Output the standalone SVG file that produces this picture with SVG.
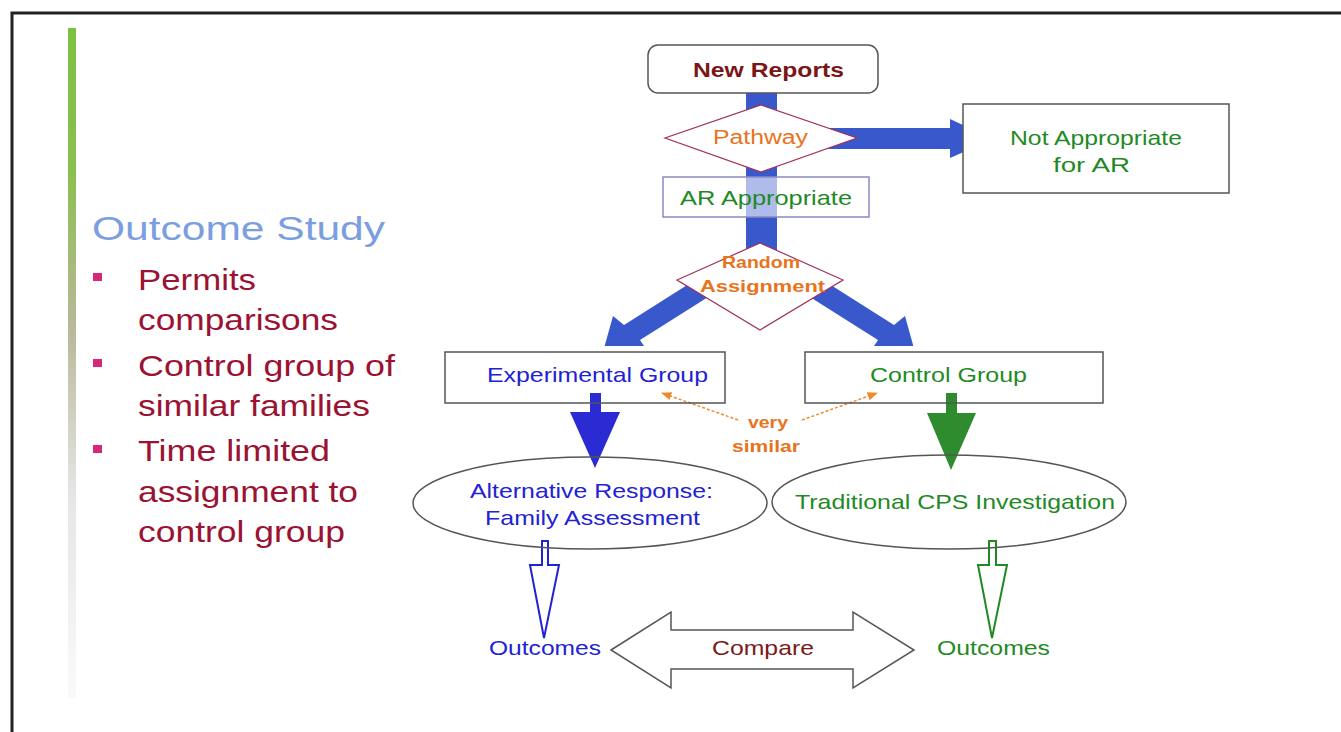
<svg xmlns="http://www.w3.org/2000/svg" width="1341" height="732" viewBox="0 0 1341 732">
<defs>
<style>
text{font-family:"Liberation Sans",Arial,sans-serif;}
.lbl{font-size:21px;}
.blue{fill:#2222d4;}
.green{fill:#1f8a25;}
.orange{fill:#e8731c;}
.bul{font-size:30px;fill:#9b1232;}
.box{fill:#fff;stroke:#555;stroke-width:1.5;}
.obox{fill:none;stroke:#555;stroke-width:1.5;}
.dia{fill:#fff;stroke:#a0305a;stroke-width:1.2;}
.bar{fill:#3858cc;}
.dash{fill:none;stroke:#ef8a2a;stroke-width:1.5;stroke-dasharray:3 2;marker-end:url(#oh);}
</style>
<linearGradient id="gb" x1="0" y1="0" x2="0" y2="1">
<stop offset="0" stop-color="#7cc142"/>
<stop offset="0.22" stop-color="#8cbf52"/>
<stop offset="0.45" stop-color="#b9b89a"/>
<stop offset="0.7" stop-color="#e6e6e6"/>
<stop offset="1" stop-color="#fafafa"/>
</linearGradient>
<marker id="oh" viewBox="0 0 10 10" refX="9" refY="5" markerWidth="7" markerHeight="7" orient="auto">
<path d="M0,1 L10,5 L0,9 Z" fill="#ef8a2a"/>
</marker>
<clipPath id="cl"><rect x="0" y="0" width="1341" height="346"/></clipPath>
</defs>
<rect x="0" y="0" width="1341" height="732" fill="#fff"/>
<rect x="12" y="13" width="1340" height="730" fill="none" stroke="#222" stroke-width="3"/>

<g id="sidebar">
<rect x="68" y="28" width="8" height="670" fill="url(#gb)"/>
<text x="92" y="240" font-size="34" fill="#7b9ee0" textLength="293" lengthAdjust="spacingAndGlyphs">Outcome Study</text>
<rect x="93" y="273" width="9" height="8" fill="#d6287a"/>
<rect x="93" y="359" width="9" height="8" fill="#d6287a"/>
<rect x="93" y="445" width="9" height="8" fill="#d6287a"/>
<text class="bul" x="138" y="290" textLength="118" lengthAdjust="spacingAndGlyphs">Permits</text>
<text class="bul" x="138" y="330" textLength="200" lengthAdjust="spacingAndGlyphs">comparisons</text>
<text class="bul" x="138" y="376" textLength="257" lengthAdjust="spacingAndGlyphs">Control group of</text>
<text class="bul" x="138" y="416" textLength="232" lengthAdjust="spacingAndGlyphs">similar families</text>
<text class="bul" x="138" y="461" textLength="192" lengthAdjust="spacingAndGlyphs">Time limited</text>
<text class="bul" x="138" y="502" textLength="220" lengthAdjust="spacingAndGlyphs">assignment to</text>
<text class="bul" x="138" y="542" textLength="207" lengthAdjust="spacingAndGlyphs">control group</text>
</g>

<g id="connectors">
<rect class="bar" x="746" y="92" width="31" height="165"/>
<path class="bar" d="M800,128 L950,128 L950,119 L993,139 L950,158 L950,149 L800,149 Z"/>
<g clip-path="url(#cl)">
<path class="bar" d="M703,275 L624,325 L613,316 L603,352 L648,352 L640,340 L716,292 Z"/>
<path class="bar" d="M815,275 L894,325 L905,316 L915,352 L870,352 L878,340 L802,292 Z"/>
</g>
<path d="M590,393 L601,393 L601,412 L620,412 L595,468 L570,412 L590,412 Z" fill="#2b2bd4"/>
<path d="M946,393 L957,393 L957,413 L976,413 L951,470 L927,413 L946,413 Z" fill="#2e8b2e"/>
<path class="dash" d="M738,420 L662,393"/>
<path class="dash" d="M802,420 L877,393"/>
<path d="M542,541 L548,541 L548,565 L559,565 L544,638 L530,565 L542,565 Z" fill="#fff" stroke="#2222d4" stroke-width="2"/>
<path d="M989,541 L996,541 L996,565 L1007,565 L992,638 L978,565 L989,565 Z" fill="#fff" stroke="#1f8a25" stroke-width="2"/>
<path d="M611,650 L671,612 L671,630 L853,630 L853,612 L914,650 L853,688 L853,669 L671,669 L671,688 Z" fill="#fff" stroke="#555" stroke-width="1.5"/>
</g>

<g id="new-reports">
<rect class="box" x="648" y="45" width="230" height="48" rx="10"/>
<text x="693" y="77" font-size="20" font-weight="bold" fill="#7a1616" textLength="151" lengthAdjust="spacingAndGlyphs">New Reports</text>
</g>
<g id="pathway">
<polygon class="dia" points="761,105 857,138 761,172 665,138"/>
<text class="orange" x="713" y="144" font-size="20" textLength="95" lengthAdjust="spacingAndGlyphs">Pathway</text>
</g>
<g id="not-appropriate">
<rect class="box" x="963" y="104" width="266" height="89"/>
<text class="lbl green" x="1010" y="145" textLength="172" lengthAdjust="spacingAndGlyphs">Not Appropriate</text>
<text class="lbl green" x="1053" y="172" textLength="77" lengthAdjust="spacingAndGlyphs">for AR</text>
</g>
<g id="ar-appropriate">
<rect x="663" y="177" width="206" height="40" fill="#fff" fill-opacity="0.6" stroke="#8a8ac4" stroke-width="1.5"/>
<text class="lbl green" x="680" y="205" textLength="172" lengthAdjust="spacingAndGlyphs">AR Appropriate</text>
</g>
<g id="random-assignment">
<polygon class="dia" points="760,243 843,280 760,330 677,280"/>
<text class="orange" x="722" y="268" font-size="17" font-weight="bold" textLength="78" lengthAdjust="spacingAndGlyphs">Random</text>
<text class="orange" x="700" y="292" font-size="17" font-weight="bold" textLength="125" lengthAdjust="spacingAndGlyphs">Assignment</text>
</g>
<g id="experimental-group">
<rect class="obox" x="445" y="352" width="280" height="51"/>
<text class="lbl blue" x="487" y="382" textLength="221" lengthAdjust="spacingAndGlyphs">Experimental Group</text>
</g>
<g id="control-group">
<rect class="obox" x="805" y="352" width="298" height="51"/>
<text class="lbl green" x="870" y="382" textLength="157" lengthAdjust="spacingAndGlyphs">Control Group</text>
</g>
<g id="very-similar">
<text class="orange" x="748" y="428" font-size="17" font-weight="bold" textLength="40" lengthAdjust="spacingAndGlyphs">very</text>
<text class="orange" x="732" y="452" font-size="17" font-weight="bold" textLength="68" lengthAdjust="spacingAndGlyphs">similar</text>
</g>
<g id="alternative-response">
<ellipse cx="590" cy="503" rx="177" ry="46" fill="none" stroke="#555" stroke-width="1.5"/>
<text class="lbl blue" x="470" y="498" textLength="243" lengthAdjust="spacingAndGlyphs">Alternative Response:</text>
<text class="lbl blue" x="485" y="525" textLength="215" lengthAdjust="spacingAndGlyphs">Family Assessment</text>
</g>
<g id="traditional-cps">
<ellipse cx="949" cy="502" rx="177" ry="47" fill="none" stroke="#555" stroke-width="1.5"/>
<text class="lbl green" x="795" y="509" textLength="320" lengthAdjust="spacingAndGlyphs">Traditional CPS Investigation</text>
</g>
<g id="outcomes-left">
<text class="lbl blue" x="489" y="655" textLength="112" lengthAdjust="spacingAndGlyphs">Outcomes</text>
</g>
<g id="outcomes-right">
<text class="lbl green" x="937" y="655" textLength="113" lengthAdjust="spacingAndGlyphs">Outcomes</text>
</g>
<g id="compare">
<text class="lbl" x="712" y="655" fill="#7a1a1a" textLength="102" lengthAdjust="spacingAndGlyphs">Compare</text>
</g>
</svg>
